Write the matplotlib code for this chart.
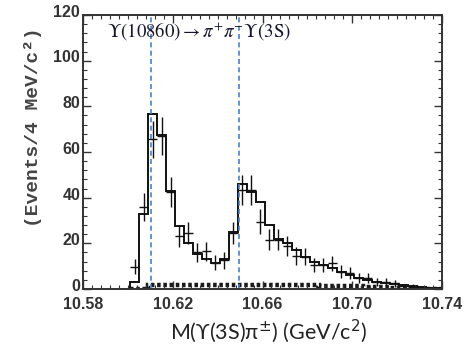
import numpy as np
import matplotlib
matplotlib.use('Agg')
import matplotlib.pyplot as plt
import matplotlib.transforms as mtransforms
from matplotlib.ticker import FixedLocator, MultipleLocator, FormatStrFormatter

# 4 MeV bins, first bin starts at 10.601 GeV
bin_lo = 10.601
bin_w = 0.004

# fit histogram (step line)
fit_vals = [3, 33, 76.5, 67.5, 43, 27.5, 20, 15.5, 13, 11.5, 13, 25, 46, 42.5, 38, 28,
            22, 20, 17, 14, 12, 10.5, 9, 7.6, 6, 5, 4, 3.2, 2.8, 2.2, 1.7, 1.2, 0.8, 0.5, 0.3]

# data points
data_vals = [9.8, 36, 65.5, 67, 42.5, 23, 24.5, 16, 16.5, 11.5, 12.5, 24.5, 43.5, 43.5, 29.5,
             21.5, 21.5, 19, 14.5, 14.2, 10.5, 10.5, 11.2, 7.6, 6.9, 4.7, 4.7, 3.2, 3.2, 2.5, 1.2, 1.0]

# background component near zero
bkg_vals = [0, 0, 1.6, 1.6, 1.6, 1.6, 1.6, 1.6, 1.6, 1.6, 1.6, 1.6, 1.6, 1.6, 1.6, 1.6, 1.6,
            1.6, 1.6, 1.6, 1.6, 1.5, 1.4, 1.3, 1.2, 1.1, 1.0, 0.9, 0.8, 0.6, 0.5, 0.4, 0.2, 0.1, 0]

zb_masses = [10.6103, 10.6495]
x_ticks = [10.58, 10.62, 10.66, 10.70, 10.74]

title = r'$\Upsilon(10860)\rightarrow\pi^{+}\pi^{-}\Upsilon\mathrm{(3S)}$'
x_label = r'M(ϒ(3S)π$^{\pm}$) (GeV/c$^{2}$)'
y_label = '(Events/4 MeV/c²)'

edges = bin_lo + bin_w * np.arange(len(fit_vals) + 1)
centers = bin_lo + bin_w * (np.arange(len(data_vals)) + 0.5)
data_vals = np.array(data_vals)

fig = plt.figure(figsize=(4.67, 3.48), dpi=100)
ax = fig.add_axes([83 / 467, 59 / 348, 359 / 467, 274 / 348])

ax.stairs(bkg_vals, edges, color='#1a1a1a', linewidth=3.2, linestyle=(0, (0.8, 0.6)))
ax.stairs(fit_vals, edges, color='#111111', linewidth=1.4)
ax.errorbar(centers, data_vals, yerr=np.sqrt(data_vals), xerr=bin_w / 2,
            fmt='none', ecolor='#111111', elinewidth=1.0)

for m in zb_masses:
    ax.axvline(m, color='#4a7fcc', linestyle=(0, (3, 2)), linewidth=1.2)

ax.set_xlim(10.58, 10.74)
ax.set_ylim(0, 120)
ax.xaxis.set_major_locator(FixedLocator(x_ticks))
ax.xaxis.set_minor_locator(FixedLocator(np.arange(10.58, 10.7401, 0.004)))
ax.yaxis.set_major_locator(MultipleLocator(20))
ax.yaxis.set_minor_locator(MultipleLocator(4))
ax.xaxis.set_major_formatter(FormatStrFormatter('%.2f'))

ax.tick_params(which='both', direction='in', top=True, right=True, colors='#333333')
ax.tick_params(which='major', length=6, width=1.0, labelsize=11.5)
ax.tick_params(which='minor', length=3, width=0.8)
ax.tick_params(axis='x', which='major', pad=6)
ax.tick_params(axis='y', which='major', pad=2)
for lab in ax.get_xticklabels() + ax.get_yticklabels():
    lab.set_fontweight('bold')
    lab.set_family('Liberation Sans')
# y labels sit a little high in the original
up = mtransforms.ScaledTranslation(0, 3 / 72, fig.dpi_scale_trans)
for lab in ax.get_yticklabels():
    lab.set_transform(lab.get_transform() + up)
for sp in ax.spines.values():
    sp.set_linewidth(1.4)
    sp.set_color('#333333')

ax.text(10.5905, 112.5, title, fontsize=13.5, color='#15152e', va='center',
        math_fontfamily='stix')

fig.text(0.575, 0.047, x_label, fontsize=15.5, color='#222222', ha='center', va='center',
         family=['Lato', 'DejaVu Sans'], math_fontfamily='dejavusans')
fig.text(0.07, 0.635, y_label, fontsize=14, color='#444444', rotation=90,
         ha='center', va='center', family='Liberation Mono', fontweight='bold')

fig.savefig('out.png', dpi=100)
